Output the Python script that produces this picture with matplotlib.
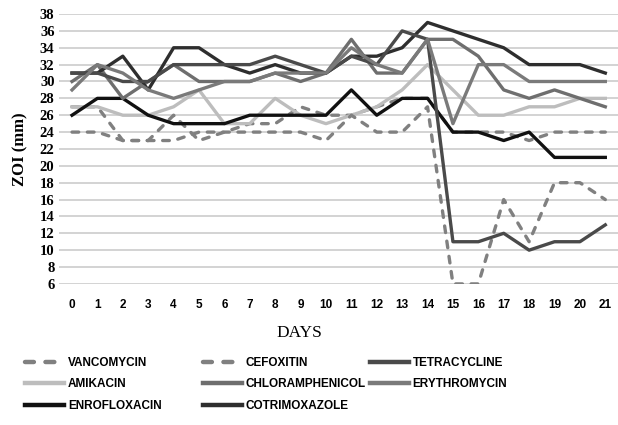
import matplotlib
matplotlib.use('Agg')
import matplotlib.pyplot as plt

days = list(range(22))

# zone of inhibition (mm) per antibiotic, day 0..21
vancomycin      = [27, 27, 23, 23, 26, 23, 24, 25, 25, 27, 26, 26, 27, 28, 28, 24, 24, 24, 23, 24, 24, 24]
cefoxitin       = [24, 24, 23, 23, 23, 24, 24, 24, 24, 24, 23, 26, 24, 24, 27, 6, 6, 16, 11, 18, 18, 16]
tetracycline    = [31, 31, 30, 30, 32, 32, 32, 32, 33, 32, 31, 33, 32, 36, 35, 11, 11, 12, 10, 11, 11, 13]
amikacin        = [27, 27, 26, 26, 27, 29, 25, 25, 28, 26, 25, 26, 27, 29, 32, 29, 26, 26, 27, 27, 28, 28]
chloramphenicol = [30, 32, 28, 30, 32, 30, 30, 30, 31, 30, 31, 35, 31, 31, 35, 35, 33, 29, 28, 29, 28, 27]
erythromycin    = [29, 32, 31, 29, 28, 29, 30, 30, 31, 31, 31, 34, 32, 31, 35, 25, 32, 32, 30, 30, 30, 30]
enrofloxacin    = [26, 28, 28, 26, 25, 25, 25, 26, 26, 26, 26, 29, 26, 28, 28, 24, 24, 23, 24, 21, 21, 21]
cotrimoxazole   = [31, 31, 33, 29, 34, 34, 32, 31, 32, 31, 31, 33, 33, 34, 37, 36, 35, 34, 32, 32, 32, 31]

yticks = list(range(6, 39, 2))

fig = plt.figure(figsize=(6.18, 4.25), dpi=100)
ax = fig.add_axes([0.096, 0.332, 0.904, 0.635])

lw = 2.4
dash = dict(linestyle=(0, (2.0, 2.6)), dash_capstyle='round')
# legend columns, top to bottom
columns = [
    [('VANCOMYCIN', vancomycin, '#808080', dash),
     ('AMIKACIN', amikacin, '#bdbdbd', {}),
     ('ENROFLOXACIN', enrofloxacin, '#111111', {})],
    [('CEFOXITIN', cefoxitin, '#808080', dash),
     ('CHLORAMPHENICOL', chloramphenicol, '#6e6e6e', {}),
     ('COTRIMOXAZOLE', cotrimoxazole, '#2e2e2e', {})],
    [('TETRACYCLINE', tetracycline, '#4a4a4a', {}),
     ('ERYTHROMYCIN', erythromycin, '#7a7a7a', {})],
]
col_x = [0.040, 0.328, 0.598]

lgd_font = {'family': ['Liberation Sans', 'DejaVu Sans'], 'weight': 'bold', 'size': 8.5}
for xpos, col in zip(col_x, columns):
    handles = []
    for name, vals, c, extra in col:
        h, = ax.plot(days, vals, color=c, lw=lw, label=name, **extra)
        handles.append(h)
    lg = fig.legend(handles=handles, loc='upper left', bbox_to_anchor=(xpos, 0.16), frameon=False,
                    prop=lgd_font, handlelength=3.3, handletextpad=0.35, labelspacing=0.8,
                    borderaxespad=0, borderpad=0)
    for ln in lg.get_lines():
        ln.set_linewidth(3.2)

ax.set_xlim(-0.5, 21.5)
ax.set_ylim(6, 38)
ax.set_yticks(yticks)
ax.set_xticks(days)
ax.yaxis.grid(True, color='#d0d0d0', lw=1.3)
ax.set_axisbelow(True)
for s in ax.spines.values():
    s.set_visible(False)
ax.tick_params(length=0)
ax.tick_params(axis='x', pad=11)
ax.set_yticklabels([str(v) for v in yticks], family=['Liberation Serif'],
                   fontweight='bold', fontsize=10.5)
ax.set_xticklabels([str(d) for d in days], family=['Liberation Sans'],
                   fontweight='bold', fontsize=8.5)

ax.set_ylabel('ZOI (mm)', family=['Liberation Serif'], fontweight='bold', fontsize=12, labelpad=8)
fig.text(0.485, 0.217, 'DAYS', family=['Liberation Serif'], fontsize=12.5, ha='center', va='center')

fig.savefig('out.png', dpi=100)
